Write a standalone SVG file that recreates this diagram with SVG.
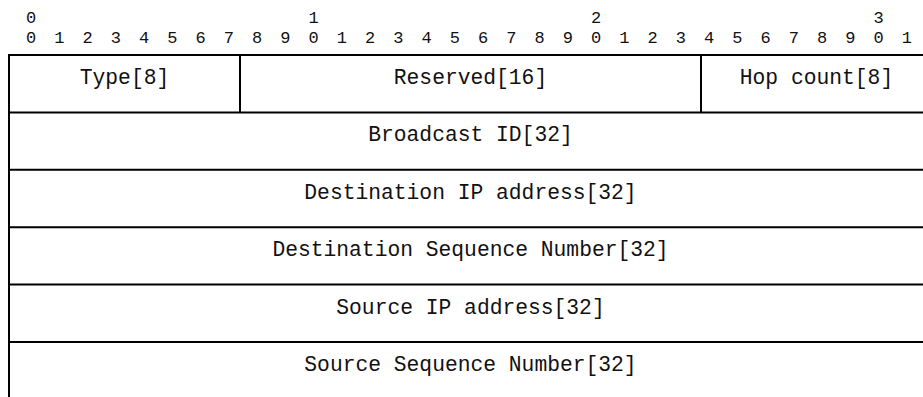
<svg xmlns="http://www.w3.org/2000/svg" width="923" height="397" viewBox="0 0 923 397">
  <style>
    .bit { font-family: "Courier New", "Liberation Mono", monospace; font-size: 17px; fill: #111; text-anchor: middle; }
    .lbl { font-family: "Courier New", "Liberation Mono", monospace; font-size: 21.3px; fill: #111; text-anchor: middle; }
    .rule { stroke: #000; stroke-width: 2; fill: none; }
  </style>
  <rect width="923" height="397" fill="#fff"/>

  <!-- bit ruler -->
  <g id="ruler">
    <text class="bit" y="23" x="31 313.5 596 878.5">0123</text>
    <text class="bit" y="43" x="31 59.25 87.5 115.75 144 172.25 200.5 228.75 257 285.25 313.5 341.75 370 398.25 426.5 454.75 483 511.25 539.5 567.75 596 624.25 652.5 680.75 709 737.25 765.5 793.75 822 850.25 878.5 906.75">01234567890123456789012345678901</text>
  </g>

  <!-- grid lines -->
  <g id="grid">
    <path class="rule" d="M9 55H923M9 112.4H923M9 169.8H923M9 227.2H923M9 284.6H923M9 342H923"/>
    <path class="rule" d="M9 54V397"/>
    <path class="rule" d="M240 55V112.4M701 55V112.4"/>
  </g>

  <!-- fields -->
  <g id="field-type"><text class="lbl" x="124.5" y="84">Type[8]</text></g>
  <g id="field-reserved"><text class="lbl" x="470.5" y="84">Reserved[16]</text></g>
  <g id="field-hopcount"><text class="lbl" x="816.5" y="84">Hop count[8]</text></g>
  <g id="field-broadcast-id"><text class="lbl" x="470.5" y="141.4">Broadcast ID[32]</text></g>
  <g id="field-dest-ip"><text class="lbl" x="470.5" y="198.8">Destination IP address[32]</text></g>
  <g id="field-dest-seq"><text class="lbl" x="470.5" y="256.2">Destination Sequence Number[32]</text></g>
  <g id="field-src-ip"><text class="lbl" x="470.5" y="313.6">Source IP address[32]</text></g>
  <g id="field-src-seq"><text class="lbl" x="470.5" y="371">Source Sequence Number[32]</text></g>
</svg>
